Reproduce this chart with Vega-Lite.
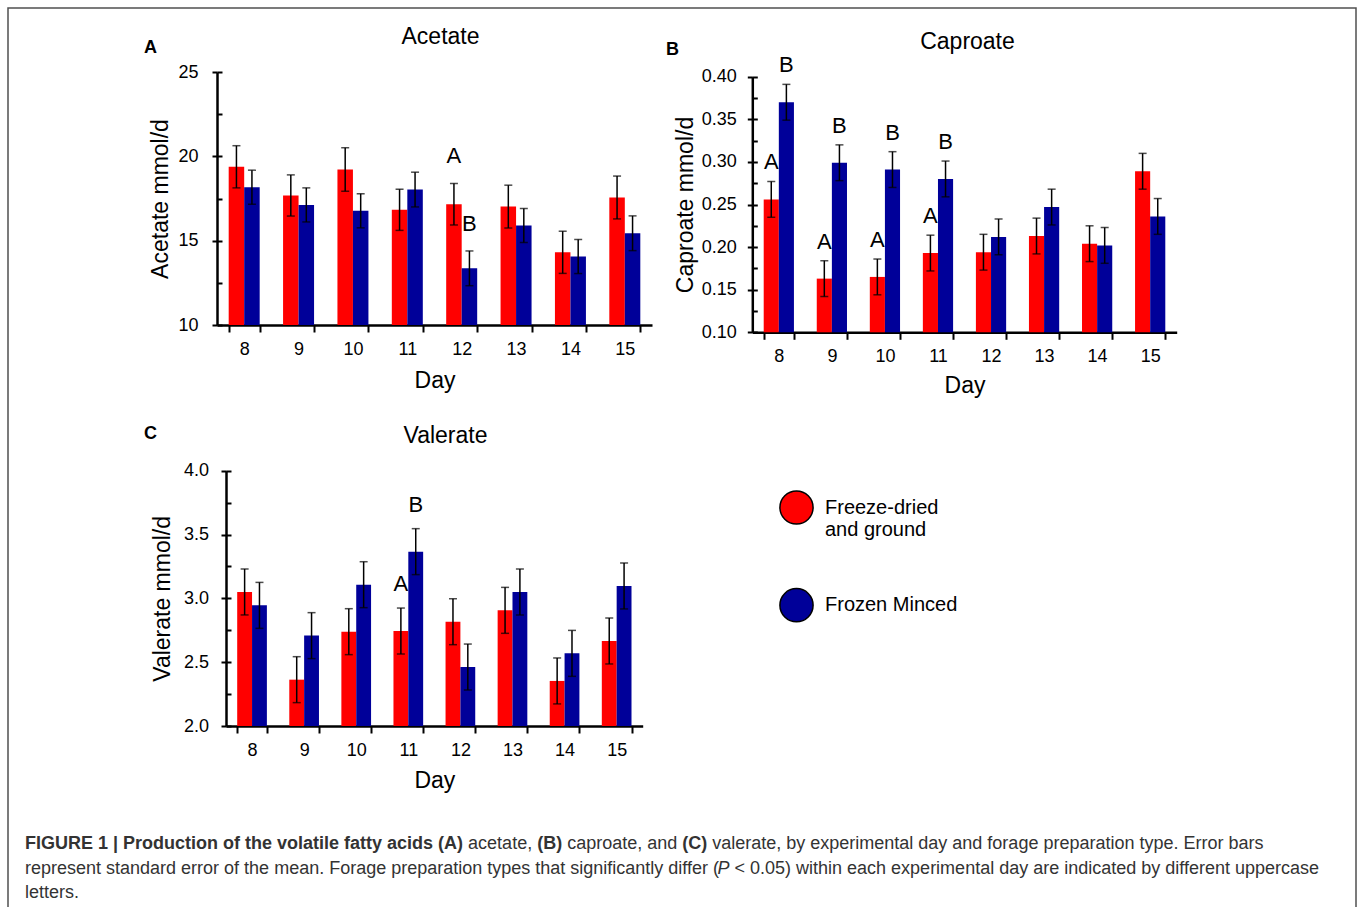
{
  "$schema": "https://vega.github.io/schema/vega-lite/v6.json",
  "width": 1348,
  "height": 920,
  "autosize": {"type": "none"},
  "padding": {"left": 8, "top": 8, "right": 2, "bottom": 0},
  "background": "white",
  "config": {
    "font": "Liberation Sans",
    "view": {"stroke": "#505050", "strokeWidth": 1.5},
    "axis": {
      "grid": false, "domainColor": "black", "tickColor": "black", "labelColor": "black", "titleColor": "black",
      "labelFontSize": 18, "titleFontSize": 23, "titleFontWeight": "normal", "domainWidth": 2.5, "tickWidth": 2,
      "labelFlush": false, "labelOverlap": false, "labelBound": false
    },
    "text": {"color": "black"}
  },
  "datasets": {
    "acetate": [
      {"day": 8, "type": "Freeze-dried and ground", "value": 19.38, "lo": 18.13, "hi": 20.63, "letter": ""},
      {"day": 8, "type": "Frozen Minced", "value": 18.17, "lo": 17.16, "hi": 19.18, "letter": ""},
      {"day": 9, "type": "Freeze-dried and ground", "value": 17.68, "lo": 16.46, "hi": 18.90, "letter": ""},
      {"day": 9, "type": "Frozen Minced", "value": 17.12, "lo": 16.11, "hi": 18.13, "letter": ""},
      {"day": 10, "type": "Freeze-dried and ground", "value": 19.22, "lo": 17.93, "hi": 20.51, "letter": ""},
      {"day": 10, "type": "Frozen Minced", "value": 16.77, "lo": 15.76, "hi": 17.78, "letter": ""},
      {"day": 11, "type": "Freeze-dried and ground", "value": 16.83, "lo": 15.61, "hi": 18.05, "letter": ""},
      {"day": 11, "type": "Frozen Minced", "value": 18.03, "lo": 17.00, "hi": 19.06, "letter": ""},
      {"day": 12, "type": "Freeze-dried and ground", "value": 17.16, "lo": 15.93, "hi": 18.39, "letter": "A"},
      {"day": 12, "type": "Frozen Minced", "value": 13.36, "lo": 12.33, "hi": 14.39, "letter": "B"},
      {"day": 13, "type": "Freeze-dried and ground", "value": 17.02, "lo": 15.75, "hi": 18.29, "letter": ""},
      {"day": 13, "type": "Frozen Minced", "value": 15.90, "lo": 14.89, "hi": 16.91, "letter": ""},
      {"day": 14, "type": "Freeze-dried and ground", "value": 14.31, "lo": 13.06, "hi": 15.56, "letter": ""},
      {"day": 14, "type": "Frozen Minced", "value": 14.06, "lo": 13.05, "hi": 15.07, "letter": ""},
      {"day": 15, "type": "Freeze-dried and ground", "value": 17.56, "lo": 16.29, "hi": 18.83, "letter": ""},
      {"day": 15, "type": "Frozen Minced", "value": 15.44, "lo": 14.41, "hi": 16.47, "letter": ""}
    ],
    "caproate": [
      {"day": 8, "type": "Freeze-dried and ground", "value": 0.256, "lo": 0.235, "hi": 0.277, "letter": "A"},
      {"day": 8, "type": "Frozen Minced", "value": 0.370, "lo": 0.349, "hi": 0.391, "letter": "B"},
      {"day": 9, "type": "Freeze-dried and ground", "value": 0.163, "lo": 0.142, "hi": 0.184, "letter": "A"},
      {"day": 9, "type": "Frozen Minced", "value": 0.299, "lo": 0.278, "hi": 0.320, "letter": "B"},
      {"day": 10, "type": "Freeze-dried and ground", "value": 0.165, "lo": 0.144, "hi": 0.186, "letter": "A"},
      {"day": 10, "type": "Frozen Minced", "value": 0.291, "lo": 0.270, "hi": 0.312, "letter": "B"},
      {"day": 11, "type": "Freeze-dried and ground", "value": 0.193, "lo": 0.172, "hi": 0.214, "letter": "A"},
      {"day": 11, "type": "Frozen Minced", "value": 0.280, "lo": 0.259, "hi": 0.301, "letter": "B"},
      {"day": 12, "type": "Freeze-dried and ground", "value": 0.194, "lo": 0.173, "hi": 0.215, "letter": ""},
      {"day": 12, "type": "Frozen Minced", "value": 0.212, "lo": 0.191, "hi": 0.233, "letter": ""},
      {"day": 13, "type": "Freeze-dried and ground", "value": 0.213, "lo": 0.192, "hi": 0.234, "letter": ""},
      {"day": 13, "type": "Frozen Minced", "value": 0.247, "lo": 0.226, "hi": 0.268, "letter": ""},
      {"day": 14, "type": "Freeze-dried and ground", "value": 0.204, "lo": 0.183, "hi": 0.225, "letter": ""},
      {"day": 14, "type": "Frozen Minced", "value": 0.202, "lo": 0.181, "hi": 0.223, "letter": ""},
      {"day": 15, "type": "Freeze-dried and ground", "value": 0.289, "lo": 0.268, "hi": 0.310, "letter": ""},
      {"day": 15, "type": "Frozen Minced", "value": 0.236, "lo": 0.215, "hi": 0.257, "letter": ""}
    ],
    "valerate": [
      {"day": 8, "type": "Freeze-dried and ground", "value": 3.050, "lo": 2.870, "hi": 3.230, "letter": ""},
      {"day": 8, "type": "Frozen Minced", "value": 2.945, "lo": 2.765, "hi": 3.125, "letter": ""},
      {"day": 9, "type": "Freeze-dried and ground", "value": 2.363, "lo": 2.183, "hi": 2.543, "letter": ""},
      {"day": 9, "type": "Frozen Minced", "value": 2.708, "lo": 2.528, "hi": 2.888, "letter": ""},
      {"day": 10, "type": "Freeze-dried and ground", "value": 2.739, "lo": 2.559, "hi": 2.919, "letter": ""},
      {"day": 10, "type": "Frozen Minced", "value": 3.107, "lo": 2.927, "hi": 3.287, "letter": ""},
      {"day": 11, "type": "Freeze-dried and ground", "value": 2.744, "lo": 2.564, "hi": 2.924, "letter": "A"},
      {"day": 11, "type": "Frozen Minced", "value": 3.366, "lo": 3.186, "hi": 3.546, "letter": "B"},
      {"day": 12, "type": "Freeze-dried and ground", "value": 2.817, "lo": 2.637, "hi": 2.997, "letter": ""},
      {"day": 12, "type": "Frozen Minced", "value": 2.462, "lo": 2.282, "hi": 2.642, "letter": ""},
      {"day": 13, "type": "Freeze-dried and ground", "value": 2.906, "lo": 2.726, "hi": 3.086, "letter": ""},
      {"day": 13, "type": "Frozen Minced", "value": 3.050, "lo": 2.870, "hi": 3.230, "letter": ""},
      {"day": 14, "type": "Freeze-dried and ground", "value": 2.353, "lo": 2.173, "hi": 2.533, "letter": ""},
      {"day": 14, "type": "Frozen Minced", "value": 2.569, "lo": 2.389, "hi": 2.749, "letter": ""},
      {"day": 15, "type": "Freeze-dried and ground", "value": 2.666, "lo": 2.486, "hi": 2.846, "letter": ""},
      {"day": 15, "type": "Frozen Minced", "value": 3.097, "lo": 2.917, "hi": 3.277, "letter": ""}
    ]
  },
  "layer": [
    {
      "data": {"name": "acetate"},
      "layer": [
        {
          "mark": {"type": "bar"},
          "encoding": {
            "x": {"field": "day", "type": "ordinal",
              "scale": {"range": [209, 644], "paddingInner": 0.43, "paddingOuter": 0.215},
              "axis": {"orient": "bottom", "offset": -603, "title": "Day", "titleY": 55, "titleBaseline": "middle",
                       "labelAngle": 0, "tickBand": "extent", "tickSize": 7, "labelPadding": 8}},
            "xOffset": {"field": "type", "type": "nominal"},
            "y": {"field": "value", "type": "quantitative",
              "scale": {"domain": [10, 25], "range": [317, 64], "nice": false, "zero": false},
              "axis": {"orient": "left", "offset": -209, "values": [10, 15, 20, 25], "tickSize": 5, "labelPadding": 14,
                       "title": "Acetate mmol/d", "titleX": -57, "titleBaseline": "middle"}},
            "y2": {"datum": 10},
            "color": {"field": "type", "type": "nominal",
              "scale": {"domain": ["Freeze-dried and ground", "Frozen Minced"], "range": ["#ff0000", "#000099"]},
              "legend": {"orient": "none", "legendX": 771, "legendY": 482, "title": null, "symbolType": "circle",
                         "symbolSize": 1100, "symbolStrokeColor": "black", "symbolStrokeWidth": 1.5, "symbolOpacity": 1,
                         "labelFontSize": 20, "labelColor": "black", "labelOffset": 11, "labelLimit": 400, "rowPadding": 44.7,
                         "labelExpr": "datum.label == 'Freeze-dried and ground' ? ['Freeze-dried', 'and ground'] : datum.label"}}
          }
        },
        {
          "mark": {"type": "rule", "strokeWidth": 1.5, "color": "black"},
          "encoding": {
            "x": {"field": "day", "type": "ordinal",
              "axis": {"orient": "top", "offset": 0, "labels": false, "ticks": false, "domain": false,
                       "title": "Acetate", "titleX": 432, "titleY": 28.7, "titleBaseline": "middle"}},
            "xOffset": {"field": "type", "type": "nominal"},
            "y": {"field": "lo", "type": "quantitative",
              "axis": {"orient": "left", "offset": -209, "values": [10, 12.5, 15, 17.5, 20, 22.5, 25], "tickSize": -5,
                       "labels": false, "domain": false, "title": "A", "titleAngle": 0, "titleFontWeight": "bold",
                       "titleFontSize": 18, "titleX": -67, "titleY": 39.3, "titleBaseline": "middle", "titleAlign": "center"}},
            "y2": {"field": "hi"}
          }
        },
        {
          "mark": {"type": "tick", "size": 8, "thickness": 1.5, "color": "black"},
          "encoding": {
            "x": {"field": "day", "type": "ordinal", "axis": null},
            "xOffset": {"field": "type", "type": "nominal"},
            "y": {"field": "hi", "type": "quantitative", "axis": null}
          }
        },
        {
          "mark": {"type": "tick", "size": 8, "thickness": 1.5, "color": "black"},
          "encoding": {
            "x": {"field": "day", "type": "ordinal", "axis": null},
            "xOffset": {"field": "type", "type": "nominal"},
            "y": {"field": "lo", "type": "quantitative", "axis": null}
          }
        },
        {
          "transform": [{"filter": "datum.letter != ''"}],
          "mark": {"type": "text", "fontSize": 22, "baseline": "middle", "dy": -27, "color": "black"},
          "encoding": {
            "x": {"field": "day", "type": "ordinal", "axis": null},
            "xOffset": {"field": "type", "type": "nominal"},
            "y": {"field": "hi", "type": "quantitative", "axis": null},
            "text": {"field": "letter"}
          }
        }
      ],
      "resolve": {"axis": {"x": "independent", "y": "independent"}}
    },
    {
      "data": {"name": "caproate"},
      "layer": [
        {
          "mark": {"type": "bar"},
          "encoding": {
            "x": {"field": "day", "type": "ordinal",
              "scale": {"range": [744.3, 1168.7], "paddingInner": 0.43, "paddingOuter": 0.215},
              "axis": {"orient": "bottom", "offset": -595.7, "title": "Day", "titleY": 53.4, "titleBaseline": "middle",
                       "labelAngle": 0, "tickBand": "extent", "tickSize": 7, "labelPadding": 8}},
            "xOffset": {"field": "type", "type": "nominal"},
            "y": {"field": "value", "type": "quantitative",
              "scale": {"domain": [0.1, 0.4], "range": [324.3, 68.7], "nice": false, "zero": false},
              "axis": {"orient": "left", "offset": -744.3, "values": [0.1, 0.15, 0.2, 0.25, 0.3, 0.35, 0.4], "format": ".2f",
                       "tickSize": 5, "labelPadding": 11, "title": "Caproate mmol/d", "titleX": -66.6, "titleBaseline": "middle"}},
            "y2": {"datum": 0.1},
            "color": {"field": "type", "type": "nominal"}
          }
        },
        {
          "mark": {"type": "rule", "strokeWidth": 1.5, "color": "black"},
          "encoding": {
            "x": {"field": "day", "type": "ordinal",
              "axis": {"orient": "top", "offset": 0, "labels": false, "ticks": false, "domain": false,
                       "title": "Caproate", "titleX": 959, "titleY": 33.7, "titleBaseline": "middle"}},
            "xOffset": {"field": "type", "type": "nominal"},
            "y": {"field": "lo", "type": "quantitative",
              "axis": {"orient": "left", "offset": -744.3,
                       "values": [0.1, 0.125, 0.15, 0.175, 0.2, 0.225, 0.25, 0.275, 0.3, 0.325, 0.35, 0.375, 0.4],
                       "tickSize": -5, "labels": false, "domain": false, "title": "B", "titleAngle": 0, "titleFontWeight": "bold",
                       "titleFontSize": 18, "titleX": -80.3, "titleY": 41, "titleBaseline": "middle", "titleAlign": "center"}},
            "y2": {"field": "hi"}
          }
        },
        {
          "mark": {"type": "tick", "size": 8, "thickness": 1.5, "color": "black"},
          "encoding": {
            "x": {"field": "day", "type": "ordinal", "axis": null},
            "xOffset": {"field": "type", "type": "nominal"},
            "y": {"field": "hi", "type": "quantitative", "axis": null}
          }
        },
        {
          "mark": {"type": "tick", "size": 8, "thickness": 1.5, "color": "black"},
          "encoding": {
            "x": {"field": "day", "type": "ordinal", "axis": null},
            "xOffset": {"field": "type", "type": "nominal"},
            "y": {"field": "lo", "type": "quantitative", "axis": null}
          }
        },
        {
          "transform": [{"filter": "datum.letter != ''"}],
          "mark": {"type": "text", "fontSize": 22, "baseline": "middle", "dy": -19, "color": "black"},
          "encoding": {
            "x": {"field": "day", "type": "ordinal", "axis": null},
            "xOffset": {"field": "type", "type": "nominal"},
            "y": {"field": "hi", "type": "quantitative", "axis": null},
            "text": {"field": "letter"}
          }
        }
      ],
      "resolve": {"axis": {"x": "independent", "y": "independent"}}
    },
    {
      "data": {"name": "valerate"},
      "layer": [
        {
          "mark": {"type": "bar"},
          "encoding": {
            "x": {"field": "day", "type": "ordinal",
              "scale": {"range": [218, 634.7], "paddingInner": 0.43, "paddingOuter": 0.215},
              "axis": {"orient": "bottom", "offset": -202, "title": "Day", "titleY": 54, "titleBaseline": "middle",
                       "labelAngle": 0, "tickBand": "extent", "tickSize": 7, "labelPadding": 8}},
            "xOffset": {"field": "type", "type": "nominal"},
            "y": {"field": "value", "type": "quantitative",
              "scale": {"domain": [2, 4], "range": [718, 462.7], "nice": false, "zero": false},
              "axis": {"orient": "left", "offset": -218, "values": [2, 2.5, 3, 3.5, 4], "format": ".1f",
                       "tickSize": 5, "labelPadding": 12.5, "title": "Valerate mmol/d", "titleX": -63.7, "titleBaseline": "middle"}},
            "y2": {"datum": 2},
            "color": {"field": "type", "type": "nominal"}
          }
        },
        {
          "mark": {"type": "rule", "strokeWidth": 1.5, "color": "black"},
          "encoding": {
            "x": {"field": "day", "type": "ordinal",
              "axis": {"orient": "top", "offset": 0, "labels": false, "ticks": false, "domain": false,
                       "title": "Valerate", "titleX": 437, "titleY": 427, "titleBaseline": "middle"}},
            "xOffset": {"field": "type", "type": "nominal"},
            "y": {"field": "lo", "type": "quantitative",
              "axis": {"orient": "left", "offset": -218, "values": [2, 2.25, 2.5, 2.75, 3, 3.25, 3.5, 3.75, 4],
                       "tickSize": -5, "labels": false, "domain": false, "title": "C", "titleAngle": 0, "titleFontWeight": "bold",
                       "titleFontSize": 18, "titleX": -76, "titleY": 425, "titleBaseline": "middle", "titleAlign": "center"}},
            "y2": {"field": "hi"}
          }
        },
        {
          "mark": {"type": "tick", "size": 8, "thickness": 1.5, "color": "black"},
          "encoding": {
            "x": {"field": "day", "type": "ordinal", "axis": null},
            "xOffset": {"field": "type", "type": "nominal"},
            "y": {"field": "hi", "type": "quantitative", "axis": null}
          }
        },
        {
          "mark": {"type": "tick", "size": 8, "thickness": 1.5, "color": "black"},
          "encoding": {
            "x": {"field": "day", "type": "ordinal", "axis": null},
            "xOffset": {"field": "type", "type": "nominal"},
            "y": {"field": "lo", "type": "quantitative", "axis": null}
          }
        },
        {
          "transform": [{"filter": "datum.letter != ''"}],
          "mark": {"type": "text", "fontSize": 22, "baseline": "middle", "dy": -24, "color": "black"},
          "encoding": {
            "x": {"field": "day", "type": "ordinal", "axis": null},
            "xOffset": {"field": "type", "type": "nominal"},
            "y": {"field": "hi", "type": "quantitative", "axis": null},
            "text": {"field": "letter"}
          }
        }
      ],
      "resolve": {"axis": {"x": "independent", "y": "independent"}}
    },
    {
      "data": {"values": [{"t": "FIGURE 1 | Production of the volatile fatty acids (A)"}]},
      "mark": {"type": "text", "x": 17, "y": 836, "align": "left", "baseline": "middle", "fontSize": 18, "fontWeight": "bold", "color": "#333333"},
      "encoding": {"text": {"field": "t"}}
    },
    {
      "data": {"values": [{"t": "acetate,"}]},
      "mark": {"type": "text", "x": 460.1, "y": 836, "align": "left", "baseline": "middle", "fontSize": 18, "color": "#333333"},
      "encoding": {"text": {"field": "t"}}
    },
    {
      "data": {"values": [{"t": "(B)"}]},
      "mark": {"type": "text", "x": 529.2, "y": 836, "align": "left", "baseline": "middle", "fontSize": 18, "fontWeight": "bold", "color": "#333333"},
      "encoding": {"text": {"field": "t"}}
    },
    {
      "data": {"values": [{"t": "caproate, and"}]},
      "mark": {"type": "text", "x": 559.2, "y": 836, "align": "left", "baseline": "middle", "fontSize": 18, "color": "#333333"},
      "encoding": {"text": {"field": "t"}}
    },
    {
      "data": {"values": [{"t": "(C)"}]},
      "mark": {"type": "text", "x": 674.2, "y": 836, "align": "left", "baseline": "middle", "fontSize": 18, "fontWeight": "bold", "color": "#333333"},
      "encoding": {"text": {"field": "t"}}
    },
    {
      "data": {"values": [{"t": "valerate, by experimental day and forage preparation type. Error bars"}]},
      "mark": {"type": "text", "x": 704.2, "y": 836, "align": "left", "baseline": "middle", "fontSize": 18, "color": "#333333"},
      "encoding": {"text": {"field": "t"}}
    },
    {
      "data": {"values": [{"t": "represent standard error of the mean. Forage preparation types that significantly differ ("}]},
      "mark": {"type": "text", "x": 17, "y": 861, "align": "left", "baseline": "middle", "fontSize": 18, "color": "#333333"},
      "encoding": {"text": {"field": "t"}}
    },
    {
      "data": {"values": [{"t": "P"}]},
      "mark": {"type": "text", "x": 709.5, "y": 861, "align": "left", "baseline": "middle", "fontSize": 18, "fontStyle": "italic", "color": "#333333"},
      "encoding": {"text": {"field": "t"}}
    },
    {
      "data": {"values": [{"t": "< 0.05) within each experimental day are indicated by different uppercase"}]},
      "mark": {"type": "text", "x": 726.5, "y": 861, "align": "left", "baseline": "middle", "fontSize": 18, "color": "#333333"},
      "encoding": {"text": {"field": "t"}}
    },
    {
      "data": {"values": [{"t": "letters."}]},
      "mark": {"type": "text", "x": 17, "y": 885, "align": "left", "baseline": "middle", "fontSize": 18, "color": "#333333"},
      "encoding": {"text": {"field": "t"}}
    }
  ],
  "resolve": {"scale": {"x": "independent", "y": "independent", "xOffset": "independent"}}
}
